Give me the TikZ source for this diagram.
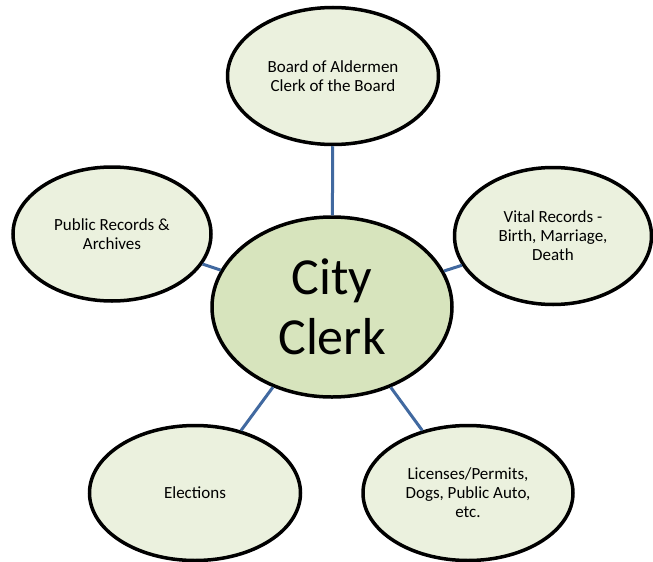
\documentclass[tikz,border=0pt]{standalone}
\usepackage{fontspec}
\setmainfont{Carlito}
\usetikzlibrary{shapes.geometric}
\definecolor{outerfill}{HTML}{EBF1DE}
\definecolor{centerfill}{HTML}{D7E4BD}
\definecolor{linkblue}{HTML}{4169A0}
\tikzset{
  outerbox/.style={ellipse, draw=black, line width=3.5pt, fill=outerfill, inner sep=0pt,
    align=center, font=\fontsize{17}{19}\selectfont},
  centerbox/.style={ellipse, draw=black, line width=3.5pt, fill=centerfill, inner sep=0pt,
    align=center, font=\fontsize{52}{60}\selectfont},
  link/.style={draw=linkblue, line width=3pt}
}
\begin{document}
\begin{tikzpicture}[x=1pt,y=-1pt]
\useasboundingbox (0,0) rectangle (653,562);
\node[centerbox, minimum width=240, minimum height=180] (c) at (332,307) {City\\Clerk};
\node[outerbox, minimum width=211, minimum height=137] (top) at (333,76) {Board of Aldermen\\Clerk of the Board};
\node[outerbox, minimum width=198, minimum height=134] (left) at (112,234) {Public Records \&\\Archives};
\node[outerbox, minimum width=197, minimum height=137] (right) at (553,236) {Vital Records -\\Birth, Marriage,\\Death};
\node[outerbox, minimum width=211, minimum height=135] (bl) at (195,493) {Elections};
\node[outerbox, minimum width=210, minimum height=135] (br) at (468,493) {Licenses/Permits,\\Dogs, Public Auto,\\etc.};
\draw[link] (c) -- (top);
\draw[link] (c) -- (left);
\draw[link] (c) -- (right);
\draw[link] (c) -- (bl);
\draw[link] (c) -- (br);
\end{tikzpicture}
\end{document}
